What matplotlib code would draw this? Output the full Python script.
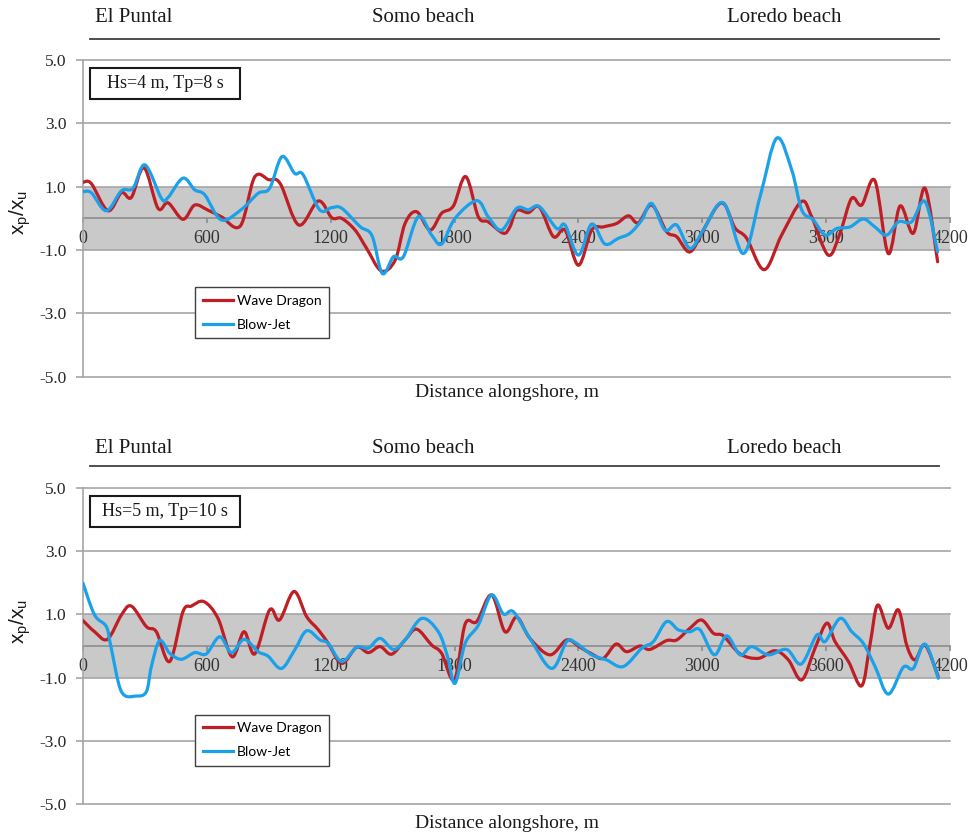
import numpy as np
import matplotlib
matplotlib.use("Agg")
import matplotlib.pyplot as plt
from matplotlib.path import Path
from matplotlib.patches import PathPatch, Rectangle
from matplotlib.lines import Line2D
from matplotlib.ticker import FuncFormatter, FixedLocator

# ---------------- data: x_p/x_u along the shoreline ----------------
# Hs = 4 m, Tp = 8 s
wd4_x = [0, 40, 121, 186, 234, 295, 363, 412, 484, 541, 605, 670, 762, 831, 900,
         955, 1045, 1140, 1205, 1253, 1318, 1374, 1445, 1512, 1560, 1616, 1681,
         1737, 1794, 1854, 1915, 1963, 2036, 2068, 2101, 2157, 2211, 2279, 2335,
         2400, 2464, 2520, 2585, 2642, 2690, 2755, 2827, 2876, 2940, 3005, 3070,
         3110, 3158, 3214, 3300, 3384, 3480, 3530, 3610, 3667, 3723, 3772, 3836,
         3901, 3958, 4022, 4079, 4140]
wd4_y = [1.14, 1.10, 0.24, 0.81, 0.66, 1.60, 0.32, 0.49, -0.03, 0.42, 0.26, 0.05,
         -0.24, 1.30, 1.22, 1.10, -0.21, 0.55, 0.02, 0.00, -0.37, -0.95, -1.66,
         -1.32, -0.16, 0.21, -0.37, 0.16, 0.39, 1.32, 0.05, -0.11, -0.47, -0.27,
         0.25, 0.18, 0.35, -0.58, -0.37, -1.48, -0.37, -0.27, -0.16, 0.08, -0.14,
         0.42, -0.42, -0.58, -1.06, -0.37, 0.37, 0.42, -0.30, -0.62, -1.62, -0.53,
         0.53, 0.05, -1.16, -0.47, 0.63, 0.42, 1.19, -1.11, 0.39, -0.47, 0.95, -1.37]

bj4_x = [0, 40, 113, 186, 242, 300, 380, 412, 484, 541, 590, 670, 767, 848, 904,
         964, 1025, 1066, 1145, 1205, 1253, 1342, 1400, 1450, 1504, 1552, 1624,
         1689, 1737, 1802, 1907, 1963, 2028, 2101, 2157, 2211, 2295, 2335, 2400,
         2464, 2528, 2593, 2650, 2707, 2755, 2819, 2876, 2940, 3005, 3102, 3199,
         3280, 3360, 3433, 3482, 3538, 3595, 3651, 3715, 3780, 3836, 3893, 3950,
         4014, 4079, 4140]
bj4_y = [0.84, 0.81, 0.24, 0.87, 0.95, 1.69, 0.63, 0.66, 1.27, 0.90, 0.74, -0.05,
         0.28, 0.79, 0.95, 1.95, 1.42, 1.38, 0.28, 0.34, 0.32, -0.26, -0.55, -1.74,
         -1.21, -1.21, 0.05, -0.53, -0.81, 0.00, 0.56, 0.05, -0.37, 0.32, 0.27,
         0.37, -0.32, -0.21, -1.16, -0.18, -0.81, -0.63, -0.47, -0.05, 0.47, -0.37,
         -0.21, -0.95, -0.37, 0.49, -1.11, 0.69, 2.53, 1.53, 0.26, -0.05, -0.53,
         -0.32, -0.27, -0.02, -0.27, -0.53, -0.11, -0.11, 0.53, -1.06]

# Hs = 5 m, Tp = 10 s
wd5_x = [0, 56, 118, 186, 234, 307, 355, 420, 484, 525, 586, 654, 722, 780, 832,
         904, 952, 1022, 1083, 1140, 1188, 1253, 1326, 1382, 1439, 1495, 1560,
         1616, 1689, 1737, 1799, 1851, 1907, 1979, 2044, 2101, 2165, 2262, 2343,
         2408, 2464, 2520, 2582, 2633, 2698, 2746, 2827, 2876, 2940, 2997, 3054,
         3102, 3183, 3272, 3352, 3417, 3482, 3546, 3603, 3643, 3708, 3772, 3812,
         3849, 3901, 3950, 3990, 4030, 4079, 4143]
wd5_y = [0.80, 0.45, 0.21, 0.98, 1.26, 0.61, 0.45, -0.49, 1.08, 1.26, 1.40, 0.87,
         -0.34, 0.45, -0.25, 1.14, 0.82, 1.72, 0.93, 0.51, 0.08, -0.55, -0.04,
         -0.21, -0.02, -0.26, 0.19, 0.53, 0.03, -0.23, -1.07, 0.69, 0.77, 1.61,
         0.45, 0.91, 0.24, -0.28, 0.19, -0.04, -0.25, -0.39, 0.06, -0.18, 0.00,
         -0.11, 0.17, 0.19, 0.56, 0.82, 0.40, 0.32, -0.25, -0.39, -0.15, -0.44,
         -1.07, -0.07, 0.72, 0.14, -0.49, -1.26, 0.03, 1.29, 0.56, 1.14, 0.03,
         -0.44, 0.03, -0.97]

bj5_x = [0, 56, 113, 136, 186, 258, 307, 331, 371, 420, 476, 541, 597, 662, 719,
         780, 848, 896, 961, 1025, 1083, 1148, 1188, 1253, 1326, 1382, 1439, 1504,
         1560, 1641, 1721, 1766, 1802, 1851, 1915, 1979, 2036, 2085, 2165, 2270,
         2343, 2391, 2464, 2536, 2617, 2707, 2763, 2827, 2884, 2940, 2989, 3058,
         3118, 3183, 3239, 3320, 3409, 3479, 3555, 3595, 3667, 3724, 3780, 3837,
         3901, 3974, 4022, 4079, 4143]
bj5_y = [1.98, 0.98, 0.61, -0.05, -1.44, -1.58, -1.44, -0.65, 0.17, -0.23, -0.42,
         -0.21, -0.25, 0.29, -0.21, 0.21, -0.18, -0.32, -0.71, -0.13, 0.48, 0.19,
         0.08, -0.49, -0.04, -0.07, 0.24, -0.11, 0.19, 0.87, 0.45, -0.34, -1.18,
         0.08, 0.66, 1.61, 1.01, 1.08, 0.24, -0.71, 0.14, 0.08, -0.28, -0.44,
         -0.65, -0.07, 0.14, 0.77, 0.51, 0.45, 0.51, -0.28, 0.32, -0.28, -0.02,
         -0.28, -0.11, -0.57, 0.35, 0.14, 0.87, 0.45, 0.08, -0.65, -1.52, -0.67,
         -0.71, 0.06, -1.02]

x_ticks = [0, 600, 1200, 1800, 2400, 3000, 3600, 4200]
y_ticks = [-5.0, -3.0, -1.0, 1.0, 3.0, 5.0]
regions = ["El Puntal", "Somo beach", "Loredo beach"]
region_x = [0.138, 0.4366, 0.808]
cases = ["Hs=4 m, Tp=8 s", "Hs=5 m, Tp=10 s"]
series_names = ["Wave Dragon", "Blow-Jet"]

RED = "#BF1E24"
BLUE = "#1BA1EA"
GRID = "#A5A5A5"
BAND = "#C9C9C9"
SERIF = "Liberation Serif"


def smooth_path(xs, ys):
    """Cubic Bezier path through the points (spreadsheet-style smoothed line)."""
    p = np.column_stack([xs, ys]).astype(float)
    n = len(p)
    verts = [p[0]]
    codes = [Path.MOVETO]
    for i in range(n - 1):
        p0 = p[i - 1] if i > 0 else p[i]
        p1 = p[i]
        p2 = p[i + 1]
        p3 = p[i + 2] if i + 2 < n else p[i + 1]
        c1 = p1 + (p2 - p0) / 6.0
        c2 = p2 - (p3 - p1) / 6.0
        verts += [c1, c2, p2]
        codes += [Path.CURVE4] * 3
    return Path(np.array(verts), codes)


fig = plt.figure(figsize=(9.7, 8.36), dpi=100)
fig.patch.set_facecolor("white")

panels = [
    dict(bottom=0.5494, xs=(wd4_x, bj4_x), ys=(wd4_y, bj4_y), case=cases[0],
         head_y=0.979, line_y=0.9533, ylab_y=0.746, xlab_y=0.531),
    dict(bottom=0.0379, xs=(wd5_x, bj5_x), ys=(wd5_y, bj5_y), case=cases[1],
         head_y=0.4638, line_y=0.4426, ylab_y=0.2566, xlab_y=0.0144),
]

for pn in panels:
    ax = fig.add_axes([0.0856, pn["bottom"], 0.8938, 0.3788])
    ax.set_xlim(0, 4200)
    ax.set_ylim(-5, 5)

    # shaded +/-1 band
    ax.fill_between([0, 4200], -1, 1, color=BAND, lw=0, zorder=0.5)

    # horizontal gridlines
    for yv in y_ticks:
        ax.axhline(yv, color=GRID, lw=1.2, zorder=0.8, clip_on=False)

    for s in ("top", "right"):
        ax.spines[s].set_visible(False)
    ax.spines["left"].set_color(GRID)
    ax.spines["left"].set_linewidth(1.2)
    ax.spines["bottom"].set_position(("data", 0))
    ax.spines["bottom"].set_color("#8C8C8C")
    ax.spines["bottom"].set_linewidth(1.2)
    ax.spines["bottom"].set_zorder(0.9)

    ax.xaxis.set_major_locator(FixedLocator(x_ticks))
    ax.yaxis.set_major_locator(FixedLocator(y_ticks))
    ax.yaxis.set_major_formatter(FuncFormatter(lambda v, _: f"{v:.1f}"))
    ax.tick_params(axis="x", direction="out", length=3.5, width=1.2,
                   color="#8C8C8C", pad=5, labelsize=13, labelcolor="#333333")
    ax.tick_params(axis="y", direction="out", length=5, width=1.2,
                   color=GRID, pad=7, labelsize=12.5, labelcolor="#262626")
    for lab in ax.get_xticklabels() + ax.get_yticklabels():
        lab.set_fontfamily(SERIF)

    # the two series as smoothed lines
    for xs, ys, col in zip(pn["xs"], pn["ys"], (RED, BLUE)):
        patch = PathPatch(smooth_path(xs, ys), facecolor="none", edgecolor=col,
                          lw=2.3, zorder=3, capstyle="round", joinstyle="round")
        ax.add_patch(patch)

    handles = [Line2D([], [], color=RED, lw=2.3), Line2D([], [], color=BLUE, lw=2.3)]
    leg = ax.legend(handles, series_names, loc="upper left",
                    bbox_to_anchor=(0.129, 0.283), borderaxespad=0,
                    frameon=True, fancybox=False, framealpha=1,
                    handlelength=2.2, handletextpad=0.25, labelspacing=0.85,
                    borderpad=0.55, prop={"family": "Lato", "size": 10})
    leg.get_frame().set_edgecolor("#404040")
    leg.get_frame().set_linewidth(1.0)
    leg.set_zorder(5)

    # case annotation box
    ax.add_patch(Rectangle((0.0081, 0.877), 0.1729, 0.098, transform=ax.transAxes,
                           facecolor="white", edgecolor="#1A1A1A", lw=1.5,
                           zorder=5, clip_on=False))
    ax.text(0.0081 + 0.1729 / 2, 0.877 + 0.098 / 2, pn["case"],
            transform=ax.transAxes, ha="center", va="center",
            family=SERIF, fontsize=13, color="#1A1A1A", zorder=6)

    # region headings over the shoreline
    for name, xf in zip(regions, region_x):
        fig.text(xf, pn["head_y"], name, ha="center", va="center",
                 family=SERIF, fontsize=15, color="#1A1A1A")
    fig.add_artist(Line2D([0.0928, 0.968], [pn["line_y"], pn["line_y"]],
                          transform=fig.transFigure, color="#404040", lw=1.3))

    fig.text(0.021, pn["ylab_y"], r"$\mathregular{x_p/x_u}$", rotation=90,
             ha="center", va="center", family="Liberation Sans", fontsize=15,
             color="#1A1A1A")
    fig.text(0.5227, pn["xlab_y"], "Distance alongshore, m", ha="center",
             va="center", family=SERIF, fontsize=14, color="#1A1A1A")

fig.savefig("out.png", dpi=100, facecolor="white")
